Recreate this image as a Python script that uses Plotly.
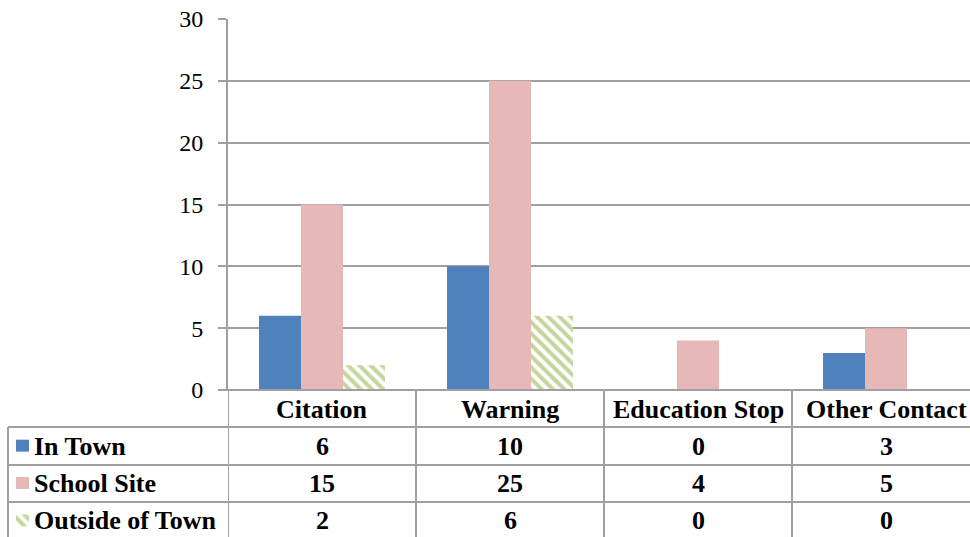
import plotly.graph_objects as go

# Contact counts by type and location
categories = ["Citation", "Warning", "Education Stop", "Other Contact"]
series_names = ["In Town", "School Site", "Outside of Town"]
in_town = [6, 10, 0, 3]
school_site = [15, 25, 4, 5]
outside_town = [2, 6, 0, 0]
y_ticks = [0, 5, 10, 15, 20, 25, 30]

W, H = 970, 537
BLUE = "#4f81bd"
PINK = "#e6b9b8"
GREEN = "#c3d69b"
LINE = "#a0a0a0"
FONT = '"Liberation Serif", "Times New Roman", serif'


def px(x):
    return x / W


def py(y):
    return 1 - y / H


series_values = [in_town, school_site, outside_town]
fig = go.Figure()

striped = dict(shape="\\", fgcolor=GREEN, bgcolor="white", size=8,
               solidity=0.5, fillmode="replace")
colors = [BLUE, PINK, "white"]
patterns = [None, None, striped]

for name, vals, col, pat in zip(series_names, series_values, colors, patterns):
    marker = dict(color=col, line=dict(width=0))
    if pat:
        marker["pattern"] = pat
    fig.add_trace(go.Bar(x=categories, y=vals, name=name, marker=marker,
                         hoverinfo="skip", showlegend=False))

# legend keys of the data table (small horizontal bars on their own axes)
for i, (name, col, pat) in enumerate(zip(series_names, colors, patterns)):
    marker = dict(color=col, line=dict(width=0))
    if pat:
        marker["pattern"] = pat
    fig.add_trace(go.Bar(x=[1], y=[i], orientation="h", width=0.32,
                         marker=marker, xaxis="x2", yaxis="y2",
                         hoverinfo="skip", showlegend=False))

shapes = []


def hline(y, x0, x1):
    shapes.append(dict(type="line", xref="paper", yref="paper",
                       x0=px(x0), x1=px(x1), y0=py(y), y1=py(y),
                       line=dict(color=LINE, width=2)))


# table grid
hline(390, 220, 970)
for y in (427, 465, 502):
    hline(y, 8, 970)
shapes.append(dict(type="line", xref="paper", yref="paper",
                   x0=px(8), x1=px(8), y0=py(427), y1=0,
                   line=dict(color=LINE, width=2)))
for i in range(len(categories)):
    shapes.append(dict(type="line", xref="x", yref="paper",
                       x0=i - 0.5, x1=i - 0.5, y0=py(390), y1=0,
                       line=dict(color=LINE, width=2)))

annotations = []
bold = dict(family=FONT, size=26, color="black", weight="bold")
for c in categories:
    annotations.append(dict(x=c, y=py(409), xref="x", yref="paper",
                            text=c, showarrow=False, font=bold,
                            xanchor="center", yanchor="middle"))
row_y = [446, 483.5, 520.5]
for name, vals, ry in zip(series_names, series_values, row_y):
    annotations.append(dict(x=px(32), y=py(ry), xref="paper", yref="paper",
                            text=name, showarrow=False, font=bold,
                            xanchor="left", yanchor="middle"))
    for c, v in zip(categories, vals):
        annotations.append(dict(x=c, y=py(ry), xref="x", yref="paper",
                                text=str(v), showarrow=False, font=bold,
                                xanchor="center", yanchor="middle"))

fig.update_layout(
    width=W, height=H, autosize=False,
    margin=dict(l=0, r=0, t=0, b=0, pad=0, autoexpand=False),
    paper_bgcolor="white", plot_bgcolor="white",
    font=dict(family=FONT),
    barmode="group", bargap=0.33, bargroupgap=0,
    xaxis=dict(domain=[px(228), 1], type="category",
               range=[-0.5, -0.5 + (970 - 228) / 188],
               showticklabels=False, showgrid=False, showline=False,
               zeroline=False, ticks="", automargin=False),
    yaxis=dict(domain=[py(390), py(19)], range=[0, 30], tickvals=y_ticks,
               showgrid=True, gridcolor=LINE, gridwidth=2,
               showline=True, linecolor=LINE, linewidth=2,
               ticks="outside", ticklen=8, tickcolor=LINE, tickwidth=2,
               zeroline=False, ticklabelstandoff=10, automargin=False,
               tickfont=dict(family=FONT, size=24, color="black")),
    xaxis2=dict(domain=[px(16), px(29)], range=[0, 1], visible=False,
                automargin=False),
    yaxis2=dict(domain=[0, py(427)], range=[-0.5 + 110 / 37.33, -0.5],
                visible=False, automargin=False),
    shapes=shapes,
    annotations=annotations,
)

fig.write_html("out.html")
